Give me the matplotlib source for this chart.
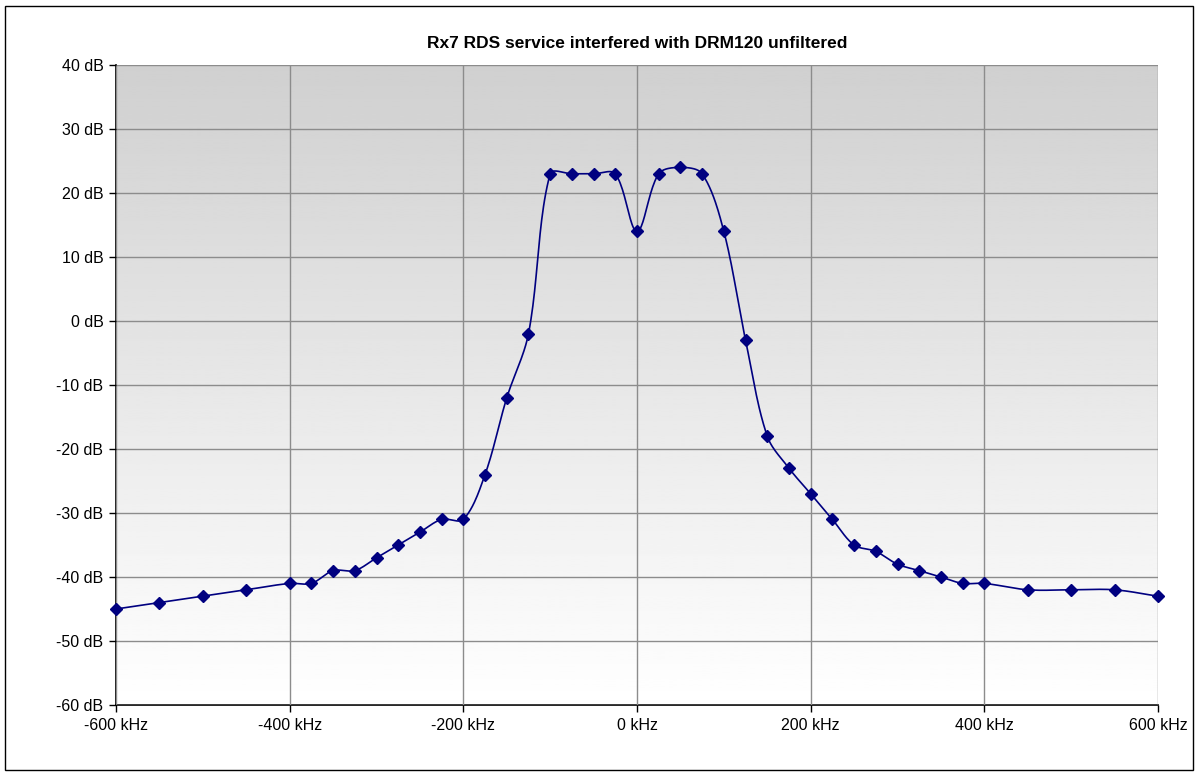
import numpy as np
import matplotlib
matplotlib.use("Agg")
import matplotlib.pyplot as plt
from matplotlib.patches import Rectangle

# measured points (kHz, dB)
freq_khz = [-600, -550, -500, -450, -400, -375, -350, -325, -300, -275, -250, -225,
            -200, -175, -150, -125, -100, -75, -50, -25, 0, 25, 50, 75, 100, 125,
            150, 175, 200, 225, 250, 275, 300, 325, 350, 375, 400, 450, 500, 550, 600]
level_db = [-45, -44, -43, -42, -41, -41, -39, -39, -37, -35, -33, -31,
            -31, -24, -12, -2, 23, 23, 23, 23, 14, 23, 24, 23, 14, -3,
            -18, -23, -27, -31, -35, -36, -38, -39, -40, -41, -41, -42, -42, -42, -43]

x_ticks = [-600, -400, -200, 0, 200, 400, 600]
y_ticks = [-60, -50, -40, -30, -20, -10, 0, 10, 20, 30, 40]
title = "Rx7 RDS service interfered with DRM120 unfiltered"


def smooth(xs, ys, sx=1.0, sy=1.0, n=24):
    # excel-like smoothed line; tangents scaled by segment length in screen units
    P = np.column_stack([np.asarray(xs, float) * sx, np.asarray(ys, float) * sy])
    P = np.vstack([P[0], P, P[-1]])
    outx, outy = [], []
    t = np.linspace(0, 1, n)[:, None]
    for i in range(1, len(P) - 2):
        p0, p1, p2, p3 = P[i - 1], P[i], P[i + 1], P[i + 2]
        d01 = np.hypot(*(p1 - p0))
        d12 = np.hypot(*(p2 - p1))
        d23 = np.hypot(*(p3 - p2))
        c1 = p1 + (p2 - p0) * (d12 / max(d01 + d12, 1e-9)) / 3
        c2 = p2 - (p3 - p1) * (d12 / max(d12 + d23, 1e-9)) / 3
        b = (1 - t) ** 3 * p1 + 3 * (1 - t) ** 2 * t * c1 + 3 * (1 - t) * t ** 2 * c2 + t ** 3 * p2
        outx.extend(b[:, 0] / sx)
        outy.extend(b[:, 1] / sy)
    return outx, outy


plt.rcParams['font.family'] = ['Liberation Sans', 'DejaVu Sans']

fig = plt.figure(figsize=(11.98, 7.76), dpi=100)
fig.patches.append(Rectangle((5 / 1198, 6 / 776), 1188 / 1198, 764 / 776,
                             transform=fig.transFigure, fill=False,
                             edgecolor='black', linewidth=1.0))

ax = fig.add_axes([116 / 1198, 1 - 705 / 776, 1042 / 1198, 640 / 776])
ax.set_xlim(-600, 600)
ax.set_ylim(-60, 40)

# gray-to-white background gradient
ax.imshow(np.linspace(0.815, 1.0, 256).reshape(-1, 1), extent=[-600, 600, -60, 40],
          aspect='auto', cmap='gray', vmin=0, vmax=1, zorder=0, origin='upper')

ax.set_xticks(x_ticks)
ax.set_yticks(y_ticks)
ax.set_xticklabels([f"{v} kHz" for v in x_ticks])
ax.set_yticklabels([f"{v} dB" for v in y_ticks])
ax.grid(True, color='#8c8c8c', linewidth=1.0, zorder=1)
ax.set_axisbelow(False)
ax.tick_params(direction='out', length=5, width=1, labelsize=11.5, colors='black', pad=4)

for s in ['top', 'right']:
    ax.spines[s].set_visible(False)
for s in ['left', 'bottom']:
    ax.spines[s].set_color('black')
    ax.spines[s].set_linewidth(1.2)

# pixel scale of the axes so smoothing behaves like on screen
px_per_khz = 1042 / 1200
px_per_db = 640 / 100
sxs, sys_ = smooth(freq_khz, level_db, px_per_khz, px_per_db)
ax.plot(sxs, sys_, color='#000080', linewidth=1.2, zorder=3)
ax.plot(freq_khz, level_db, linestyle='none', marker='D', markersize=6.5,
        color='#000080', zorder=4, clip_on=False)

ax.set_title(title, fontsize=12.5, fontweight='bold', pad=12)

fig.savefig("out.png", dpi=100)
